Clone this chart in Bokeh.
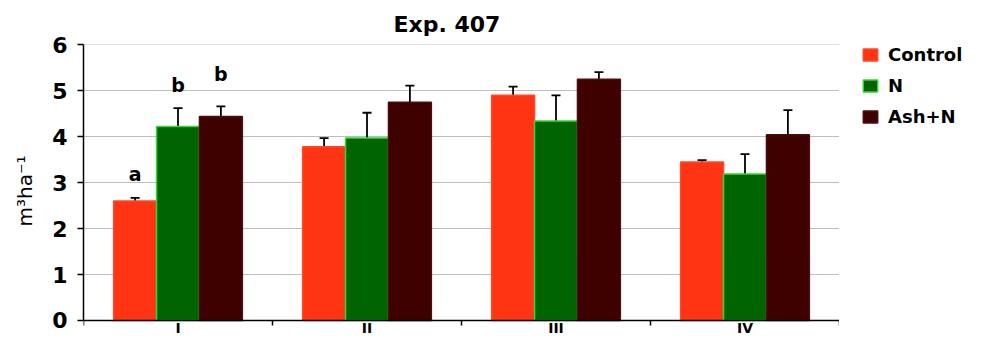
import numpy as np
from bokeh.plotting import figure
from bokeh.layouts import row
from bokeh.models import (ColumnDataSource, Whisker, TeeHead, FixedTicker, Legend,
                          LegendItem, Range1d)
from bokeh.core.properties import value
from bokeh.embed import file_html
from bokeh.resources import INLINE

# ---------------- data ----------------
categories = ["I", "II", "III", "IV"]
series_names = ["Control", "N", "Ash+N"]
control = [2.60, 3.78, 4.90, 3.45]
control_err = [0.07, 0.19, 0.19, 0.04]
n_vals = [4.22, 3.97, 4.34, 3.19]
n_err = [0.40, 0.55, 0.56, 0.43]
ash_n = [4.44, 4.75, 5.25, 4.04]
ash_n_err = [0.22, 0.36, 0.155, 0.535]
y_ticks = [0, 1, 2, 3, 4, 5, 6]
sig_letters = ["a", "b", "b"]
sig_y = [3.18, 5.12, 5.37]
title_text = "Exp. 407"
y_label = "m³ha⁻¹"

# ---------------- style ----------------
FONT = "DejaVu Sans"
fills = ["#ff3412", "#006400", "#3f0000"]
lines = ["#ff4a2a", "#33d633", "#4a0f0f"]
bar_w = 0.227
offsets = [-bar_w, 0.0, bar_w]

p = figure(width=839, height=337, output_backend="svg", toolbar_location=None,
           x_range=Range1d(0, 4), y_range=Range1d(-0.37, 6.005),
           min_border_left=83, min_border_right=0, min_border_top=44,
           min_border_bottom=0)
p.outline_line_color = None
p.background_fill_color = "white"
p.border_fill_color = "white"

# title
p.title.text = title_text
p.title.text_font = FONT
p.title.text_font_style = "bold"
p.title.text_font_size = "22px"
p.title.text_color = "black"
p.title.align = "left"
p.title.offset = 310
p.title.standoff = 16

# y axis
p.yaxis.ticker = FixedTicker(ticks=y_ticks)
p.yaxis.bounds = (0, 6)
p.yaxis.major_tick_out = 6
p.yaxis.major_tick_in = 0
p.yaxis.minor_tick_out = 0
p.yaxis.minor_tick_in = 0
p.yaxis.axis_line_color = "black"
p.yaxis.axis_line_width = 1.5
p.yaxis.major_tick_line_color = "black"
p.yaxis.major_tick_line_width = 1.5
p.yaxis.major_label_text_font = FONT
p.yaxis.major_label_text_font_style = "bold"
p.yaxis.major_label_text_font_size = "22px"
p.yaxis.major_label_text_color = "black"
p.yaxis.major_label_standoff = 10
p.yaxis.axis_label = y_label
p.yaxis.axis_label_text_font = FONT
p.yaxis.axis_label_text_font_style = "normal"
p.yaxis.axis_label_text_font_size = "20px"
p.yaxis.axis_label_text_color = "black"
p.yaxis.axis_label_standoff = 12

# x axis drawn at y = 0: labels at category centres, tick marks (minor) at boundaries
centers = np.arange(len(categories)) + 0.5
bounds = [float(b) for b in range(len(categories) + 1)]
p.xaxis.fixed_location = 0
p.xaxis.ticker = FixedTicker(ticks=list(centers), minor_ticks=bounds)
p.xaxis.major_label_overrides = {float(c): lab for c, lab in zip(centers, categories)}
p.xaxis.major_label_text_font = FONT
p.xaxis.major_label_text_font_style = "bold"
p.xaxis.major_label_text_font_size = "14px"
p.xaxis.major_label_text_color = "black"
p.xaxis.major_label_standoff = -5
p.xaxis.major_tick_out = 0
p.xaxis.major_tick_in = 0
p.xaxis.minor_tick_out = 5
p.xaxis.minor_tick_in = 0
p.xaxis.minor_tick_line_color = "black"
p.xaxis.minor_tick_line_width = 1.5
p.xaxis.axis_line_color = "black"
p.xaxis.axis_line_width = 1.5

p.xgrid.grid_line_color = None
p.ygrid.ticker = FixedTicker(ticks=y_ticks)
p.ygrid.grid_line_color = "#bdbdbd"
p.ygrid.grid_line_width = 1.2

# bars
values = [control, n_vals, ash_n]
errors = [control_err, n_err, ash_n_err]
for i, (vals, errs) in enumerate(zip(values, errors)):
    v = np.array(vals)
    e = np.array(errs)
    src = ColumnDataSource(dict(x=centers + offsets[i], top=v,
                                upper=v + e, lower=v - e))
    p.vbar(x="x", top="top", width=bar_w, bottom=0, source=src,
           fill_color=fills[i], line_color=lines[i], line_width=1.5)
    p.add_layout(Whisker(source=src, base="x", upper="upper", lower="lower",
                         line_color="black", line_width=1.8,
                         upper_head=TeeHead(size=9, line_color="black", line_width=1.8),
                         lower_head=TeeHead(size=9, line_color="black", line_width=1.8)))

# significance letters over group I
ls = ColumnDataSource(dict(x=centers[0] + np.array(offsets), y=sig_y, t=sig_letters))
p.text(x="x", y="y", text="t", source=ls, text_font=value(FONT),
       text_font_style="bold", text_font_size="19px", text_align="center",
       text_baseline="middle", text_color="black")

# legend panel (separate figure at the right); NaN rows draw nothing
lg = figure(width=126, height=337, output_backend="svg", toolbar_location=None,
            x_axis_location=None, y_axis_location=None, min_border=0,
            x_range=Range1d(0, 1), y_range=Range1d(0, 1))
lg.outline_line_color = None
lg.xgrid.grid_line_color = None
lg.ygrid.grid_line_color = None
legend_renderers = [lg.vbar(x=[float("nan")], top=[float("nan")], width=0.1,
                            fill_color=fills[i], line_color=lines[i], line_width=1.5)
                    for i in range(len(series_names))]
legend = Legend(items=[LegendItem(label=n, renderers=[r])
                       for n, r in zip(series_names, legend_renderers)],
                location=(22, 208), orientation="vertical",
                glyph_width=18, glyph_height=15, label_height=25, spacing=6,
                padding=0, margin=0, label_standoff=9,
                label_text_font=FONT, label_text_font_style="bold",
                label_text_font_size="18px", label_text_color="black",
                border_line_color=None, background_fill_alpha=0)
lg.add_layout(legend, "center")

open("out.html", "w").write(file_html(row(p, lg), INLINE))
